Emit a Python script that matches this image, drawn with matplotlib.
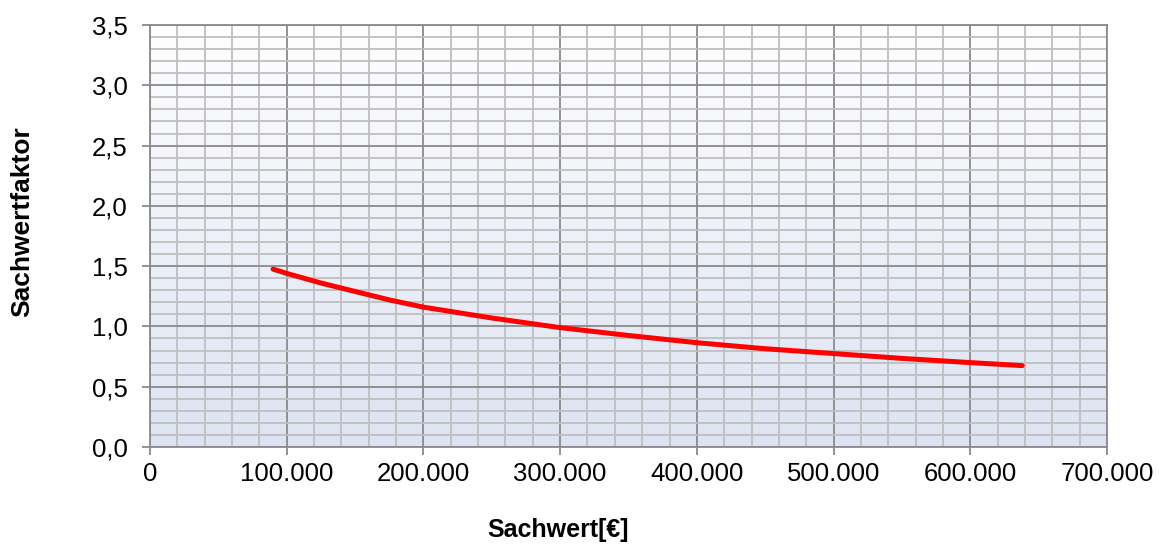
import numpy as np
import matplotlib
matplotlib.use("Agg")
from matplotlib import pyplot as plt
from matplotlib.ticker import MultipleLocator, FuncFormatter
from matplotlib.colors import LinearSegmentedColormap

# values
sachwert = [90000, 100000, 125000, 150000, 175000, 200000, 250000, 300000,
            350000, 400000, 450000, 500000, 550000, 600000, 638000]
faktor = [1.475, 1.44, 1.36, 1.29, 1.22, 1.16, 1.07, 0.99,
          0.925, 0.865, 0.815, 0.775, 0.735, 0.70, 0.675]

plt.rcParams['font.family'] = ['Liberation Sans', 'DejaVu Sans']


def de_thousands(v, pos):
    return "{:,.0f}".format(v).replace(",", ".")


def de_decimal(v, pos):
    return "{:.1f}".format(v).replace(".", ",")


def main():
    fig = plt.figure(figsize=(11.63, 5.58), dpi=100)
    ax = fig.add_axes([150 / 1163, 1 - 447 / 558, 957 / 1163, 422 / 558])

    # gradient background of the plot area
    cmap = LinearSegmentedColormap.from_list("bg", ["#fefeff", "#dce3f2"])
    grad = np.linspace(0, 1, 256).reshape(-1, 1)
    ax.imshow(grad, cmap=cmap, aspect="auto", extent=[0, 1, 0, 1],
              transform=ax.transAxes, zorder=0)

    ax.plot(sachwert, faktor, color="#ff0000", linewidth=3.6,
            solid_capstyle="round", zorder=3)

    ax.set_xlim(0, 700000)
    ax.set_ylim(0, 3.5)
    ax.xaxis.set_major_locator(MultipleLocator(100000))
    ax.xaxis.set_minor_locator(MultipleLocator(20000))
    ax.yaxis.set_major_locator(MultipleLocator(0.5))
    ax.yaxis.set_minor_locator(MultipleLocator(0.1))
    ax.xaxis.set_major_formatter(FuncFormatter(de_thousands))
    ax.yaxis.set_major_formatter(FuncFormatter(de_decimal))

    ax.grid(True, which="minor", color="#bfbfbf", linewidth=1.3, zorder=1)
    ax.grid(True, which="major", color="#8a8a8a", linewidth=1.3, zorder=2)
    ax.set_axisbelow(True)

    for s in ax.spines.values():
        s.set_color("#8a8a8a")
        s.set_linewidth(1.3)
    ax.tick_params(which="major", direction="out", length=6, width=1.3,
                   color="#8a8a8a", labelsize=18.5)
    ax.tick_params(axis="y", which="major", pad=10)
    ax.tick_params(axis="x", which="major", pad=5)
    ax.tick_params(which="minor", length=0)

    fig.text(558 / 1163, 1 - 530 / 558, "Sachwert[€]", fontsize=18,
             fontweight="bold", ha="center", va="center")
    fig.text(22 / 1163, 1 - 222 / 558, "Sachwertfaktor", fontsize=19,
             fontweight="bold", ha="center", va="center", rotation=90)

    fig.savefig("out.png", dpi=100)


if __name__ == "__main__":
    main()
